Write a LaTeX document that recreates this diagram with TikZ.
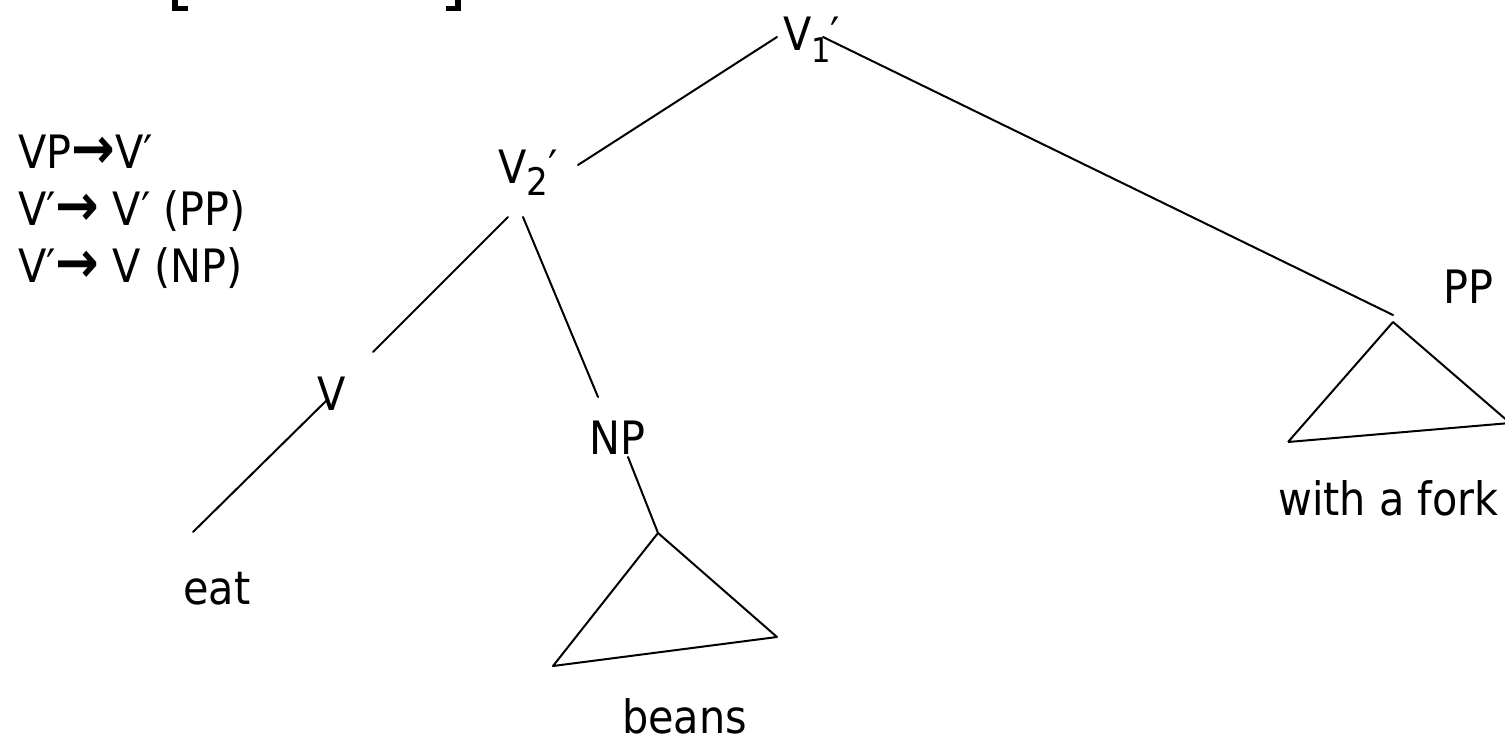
\documentclass[tikz,border=0pt]{standalone}
\usepackage{fontspec}
\setmainfont{DejaVu Sans}[FakeStretch=0.9]
\newcommand{\rarr}{{\fontsize{58}{58}\selectfont\bfseries →}}
\begin{document}
\begin{tikzpicture}[x=1pt,y=-1pt,
  lbl/.style={anchor=base west,inner sep=0pt,font=\fontsize{46}{55}\selectfont},
  edge/.style={line width=2pt,line cap=round,line join=round},
  tri/.style={line width=2pt,line join=round}]
\useasboundingbox (0,0) rectangle (1505,742);
% cut-off brackets at the top
\fill (172,0) rectangle (178,11);
\fill (172,6) rectangle (188,11);
\fill (455,0) rectangle (461,11);
\fill (446,6) rectangle (461,11);
% rules
\node[lbl] (r1) at (18,168) {VP\rarr V′};
\node[lbl] (r2) at (18,225) {V′\rarr\ V′ (PP)};
\node[lbl] (r3) at (18,282) {V′\rarr\ V (NP)};
% tree labels
\node[lbl] (v1) at (783,50) {V\raisebox{-12pt}{\fontsize{34}{34}\selectfont 1}′};
\node[lbl] (v2) at (498,183) {V\raisebox{-12pt}{\fontsize{38}{38}\selectfont 2}′};
\node[lbl] (v) at (317,410) {V};
\node[lbl] (np) at (589,454) {NP};
\node[lbl] (pp) at (1443,303) {PP};
\node[lbl] (eat) at (183,604) {eat};
\node[lbl,text depth=0pt] (beans) at (622,733) {beans};
\node[lbl] (fork) at (1278,515) {with a fork};
% connector end points
\coordinate (v1L) at (777,37);
\coordinate (v1R) at (823,37);
\coordinate (v2top) at (578,165);
\coordinate (v2L) at (508,217);
\coordinate (v2R) at (523,217);
\coordinate (vtop) at (373,352);
\coordinate (nptop) at (598,397);
\coordinate (vbot) at (327,400);
\coordinate (eattop) at (193,532);
\coordinate (npbot) at (628,457);
\coordinate (ppend) at (1393,315);
% NP triangle
\coordinate (ta) at (658,533);
\coordinate (tr) at (777,637);
\coordinate (tl) at (553,666);
% PP triangle
\coordinate (pa) at (1393,322);
\coordinate (pr) at (1510,423);
\coordinate (pl) at (1288,442);
% connectors
\draw[edge] (v1L) -- (v2top);
\draw[edge] (v1R) -- (ppend);
\draw[edge] (v2L) -- (vtop);
\draw[edge] (v2R) -- (nptop);
\draw[edge] (vbot) -- (eattop);
\draw[edge] (npbot) -- (ta);
\draw[tri] (ta) -- (tr) -- (tl) -- cycle;
\draw[tri] (pl) -- (pa) -- (pr) -- (pl);
\end{tikzpicture}
\end{document}
